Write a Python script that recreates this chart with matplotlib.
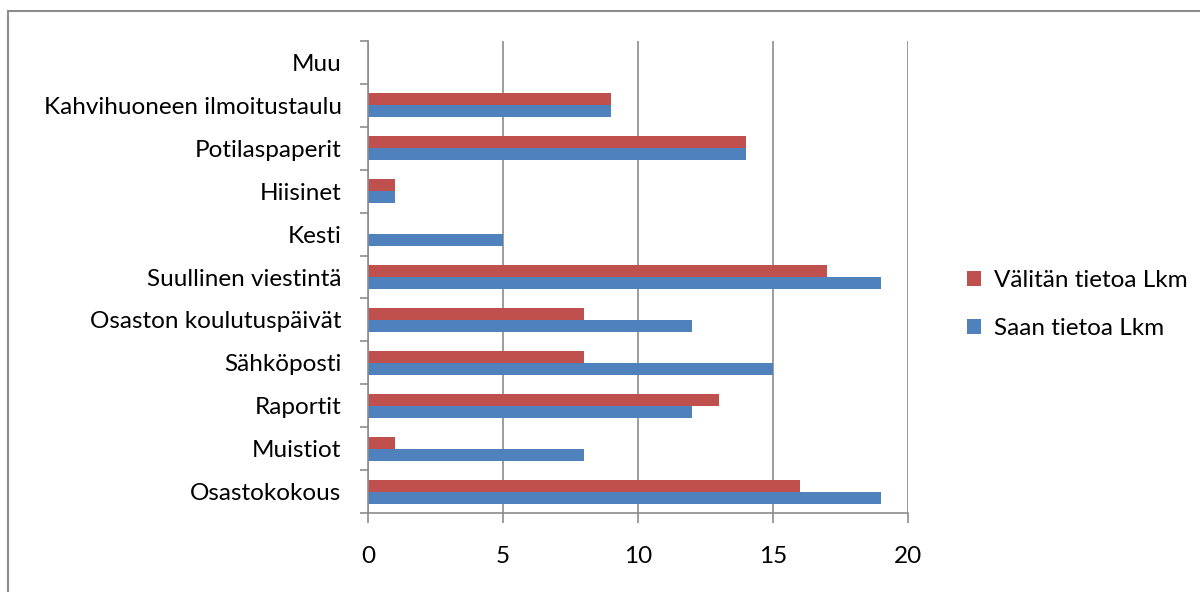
import matplotlib
matplotlib.use('Agg')
from matplotlib import pyplot as plt
from matplotlib.patches import Rectangle
import numpy as np

plt.rcParams['font.family'] = ['Lato', 'DejaVu Sans']

# data, bottom to top
kategoriat = ['Osastokokous', 'Muistiot', 'Raportit', 'Sähköposti',
              'Osaston koulutuspäivät', 'Suullinen viestintä', 'Kesti',
              'Hiisinet', 'Potilaspaperit', 'Kahvihuoneen ilmoitustaulu', 'Muu']
saan = [19, 8, 12, 15, 12, 19, 5, 1, 14, 9, 0]
valitan = [16, 1, 13, 8, 8, 17, 0, 1, 14, 9, 0]
xticks = [0, 5, 10, 15, 20]

sininen = '#4F81BD'
punainen = '#C0504D'
fs = 17.5

fig = plt.figure(figsize=(12, 5.92), dpi=100, facecolor='white')
# chart frame (Excel style)
fig.patches.append(Rectangle((8/1200, -0.05), 1.1, (592-11)/592 + 0.05,
                             transform=fig.transFigure, fill=False,
                             edgecolor='#8c8c8c', linewidth=1.5))

ax = fig.add_axes([368/1200, 79/592, 540/1200, 472/592])
y = np.arange(len(kategoriat))
h = 0.28
ax.barh(y - h/2, saan, height=h, color=sininen, label='Saan tietoa Lkm')
ax.barh(y + h/2, valitan, height=h, color=punainen, label='Välitän tietoa Lkm')

ax.set_xlim(0, 20)
ax.set_ylim(-0.5, len(kategoriat) - 0.5)
ax.set_xticks(xticks)
ax.set_xticklabels([str(v) for v in xticks], fontsize=fs)
ax.set_yticks(y)
ax.set_yticklabels(kategoriat, fontsize=fs)
ax.set_yticks(np.arange(len(kategoriat) + 1) - 0.5, minor=True)
ax.tick_params(axis='y', which='major', length=0, pad=19)
ax.tick_params(axis='y', which='minor', length=6, width=1.2, color='#8c8c8c', direction='out')
ax.tick_params(axis='x', length=7, width=1.2, color='#8c8c8c', direction='out', pad=17)
ax.grid(axis='x', color='#8c8c8c', linewidth=1.2)
ax.set_axisbelow(True)
for s in ['top', 'right']:
    ax.spines[s].set_visible(False)
for s in ['left', 'bottom']:
    ax.spines[s].set_color('#8c8c8c')
    ax.spines[s].set_linewidth(1.2)

handles, labels = ax.get_legend_handles_labels()
fig.legend(handles[::-1], labels[::-1], loc='center left',
           bbox_to_anchor=(945/1200, 287.5/592), frameon=False, fontsize=fs,
           handlelength=0.6, handleheight=0.6, labelspacing=1.1, handletextpad=0.5)

fig.savefig('out.png', dpi=100, facecolor='white')
